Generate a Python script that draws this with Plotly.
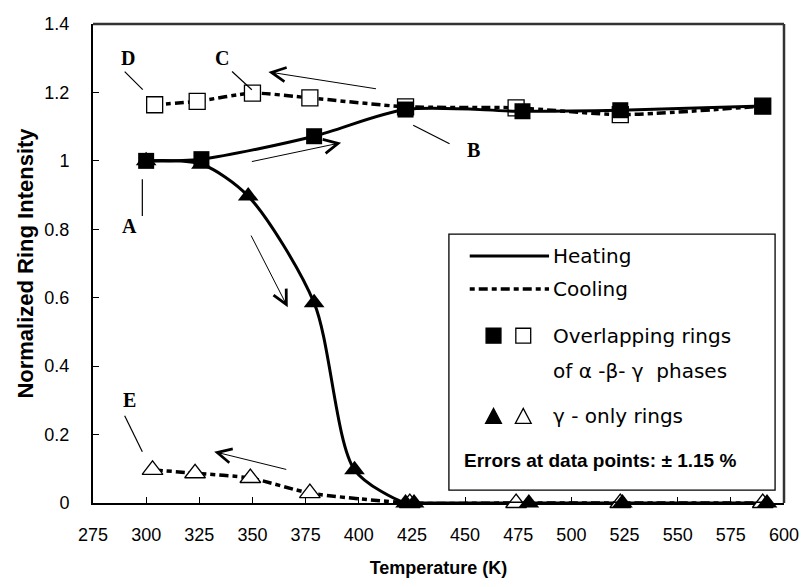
import plotly.graph_objects as go

# ---- data ----
heat_sq_x = [300, 326, 379, 422, 477, 523, 590]
heat_sq_y = [1.0, 1.005, 1.072, 1.15, 1.145, 1.148, 1.16]
heat_tri_x = [300, 326, 348, 379, 398, 422, 426, 480, 524, 592]
heat_tri_y = [1.0, 0.99, 0.897, 0.585, 0.097, 0.0, 0.0, 0.0, 0.0, 0.0]
cool_sq_x = [590, 523, 474, 422, 377, 350, 324, 304]
cool_sq_y = [1.16, 1.135, 1.155, 1.158, 1.184, 1.198, 1.174, 1.164]
cool_tri_x = [590, 523, 474, 424, 377, 349, 323, 303]
cool_tri_y = [0.0, 0.0, 0.0, 0.0, 0.029, 0.073, 0.087, 0.097]
x_ticks = [275, 300, 325, 350, 375, 400, 425, 450, 475, 500, 525, 550, 575, 600]
y_ticks = [0, 0.2, 0.4, 0.6, 0.8, 1.0, 1.2, 1.4]
y_tick_text = ["0", "0.2", "0.4", "0.6", "0.8", "1", "1.2", "1.4"]

W, H = 811, 587
ML, MR, MT, MB = 93, 21, 24, 82
PW, PH = W - ML - MR, H - MT - MB

def px(x):
    return (x - ML) / PW

def py(y):
    return (MT + PH - y) / PH

DASH = "5px,4px,9px,4px"
SQ, TRI = 16, 18
fig = go.Figure()

# cooling (drawn first, under)
fig.add_trace(go.Scatter(x=cool_tri_x, y=cool_tri_y, mode="lines+markers", cliponaxis=False,
    line=dict(color="black", width=3.5, dash=DASH, shape="spline", smoothing=0.6),
    marker=dict(symbol="triangle-up", size=TRI, color="white", line=dict(width=1.3, color="black")),
    showlegend=False))
fig.add_trace(go.Scatter(x=cool_sq_x, y=cool_sq_y, mode="lines+markers", cliponaxis=False,
    line=dict(color="black", width=3.5, dash=DASH, shape="spline", smoothing=0.6),
    marker=dict(symbol="square", size=SQ, color="white", line=dict(width=1.3, color="black")),
    showlegend=False))
# heating
fig.add_trace(go.Scatter(x=heat_tri_x, y=heat_tri_y, mode="lines+markers", cliponaxis=False,
    line=dict(color="black", width=3, shape="spline", smoothing=0.8),
    marker=dict(symbol="triangle-up", size=TRI, color="black"),
    showlegend=False))
fig.add_trace(go.Scatter(x=heat_sq_x, y=heat_sq_y, mode="lines+markers", cliponaxis=False,
    line=dict(color="black", width=3, shape="spline", smoothing=0.8),
    marker=dict(symbol="square", size=SQ, color="black"),
    showlegend=False))

annotations = []
shapes = []

# top / right frame (dark grey)
shapes.append(dict(type="line", xref="paper", yref="paper", x0=0, x1=1, y0=1, y1=1,
                   line=dict(color="#333333", width=2.5), layer="below"))
shapes.append(dict(type="line", xref="paper", yref="paper", x0=1, x1=1, y0=0, y1=1,
                   line=dict(color="#333333", width=2.5), layer="below"))

# pointer lines
pointer_lines = [
    (289.9, 1.261, 298.4, 1.208),  # D
    (340.4, 1.261, 349.7, 1.208),  # C
    (425.6, 1.104, 442.7, 1.050),  # B
    (298.2, 0.946, 298.2, 0.839),  # A
    (289.9, 0.255, 298.2, 0.150),  # E
]
for x0, y0, x1, y1 in pointer_lines:
    shapes.append(dict(type="line", xref="x", yref="y", x0=x0, y0=y0, x1=x1, y1=y1,
                       line=dict(color="black", width=1.2)))

# direction arrows (head at x,y; tail at ax,ay)
arrows = [
    (357.5, 1.26, 408.8, 1.21),
    (391.7, 1.053, 349.0, 0.997),
    (366.6, 0.572, 349.0, 0.786),
    (332.0, 0.150, 366.6, 0.097),
]
for x, y, ax, ay in arrows:
    annotations.append(dict(x=x, y=y, ax=ax, ay=ay, xref="x", yref="y", axref="x", ayref="y",
                            text="", showarrow=True, arrowhead=5, arrowsize=2.8, arrowwidth=1.0,
                            arrowcolor="black"))

# letters
letters = [("D", 291.3, 1.30), ("C", 335.5, 1.30), ("B", 453.8, 1.031),
           ("A", 292.2, 0.81), ("E", 292.2, 0.30)]
for t, x, y in letters:
    annotations.append(dict(x=x, y=y, xref="x", yref="y", text="<b>%s</b>" % t, showarrow=False,
                            font=dict(family="Liberation Serif", size=20, color="black")))

# legend box
bx0, by0, bx1, by1 = 452, 235, 781, 492
shapes.append(dict(type="rect", xref="paper", yref="paper", x0=px(bx0), x1=px(bx1),
                   y0=py(by1), y1=py(by0), line=dict(color="black", width=1.3),
                   fillcolor="white", layer="above"))
shapes.append(dict(type="line", xref="paper", yref="paper", x0=px(473), x1=px(553),
                   y0=py(257), y1=py(257), line=dict(color="black", width=3), layer="above"))
shapes.append(dict(type="line", xref="paper", yref="paper", x0=px(473), x1=px(553),
                   y0=py(290), y1=py(290), line=dict(color="black", width=3.5, dash=DASH), layer="above"))
# legend squares
s = 7.5
for cx, fill in [(497, "black"), (527, "white")]:
    cy = 337
    shapes.append(dict(type="rect", xref="paper", yref="paper", x0=px(cx - s), x1=px(cx + s),
                       y0=py(cy + s), y1=py(cy - s), fillcolor=fill,
                       line=dict(color="black", width=1.3), layer="above"))
# legend triangles
for cx, fill in [(497, "black"), (527, "white")]:
    cy = 418
    path = "M %f %f L %f %f L %f %f Z" % (px(cx - 8), py(cy + 7), px(cx + 8), py(cy + 7), px(cx), py(cy - 8))
    shapes.append(dict(type="path", xref="paper", yref="paper", path=path, fillcolor=fill,
                       line=dict(color="black", width=1.3), layer="above"))

leg_font = dict(family="DejaVu Sans", size=20, color="black")
for t, y in [("Heating", 257), ("Cooling", 290), ("Overlapping rings", 337),
             ("of α -β- γ  phases", 372), ("γ - only rings", 418)]:
    annotations.append(dict(x=px(555), y=py(y), xref="paper", yref="paper", text=t,
                            xanchor="left", yanchor="middle", showarrow=False, font=leg_font))
annotations.append(dict(x=px(465), y=py(462), xref="paper", yref="paper",
                        text="<b>Errors at data points: ± 1.15 %</b>", xanchor="left",
                        yanchor="middle", showarrow=False,
                        font=dict(family="Liberation Sans", size=19, color="black")))

axis_common = dict(showgrid=False, zeroline=False, showline=True, linecolor="black", linewidth=2,
                   mirror=False, ticks="inside", ticklen=6, tickwidth=1, tickcolor="black",
                   layer="below traces",
                   tickfont=dict(family="Liberation Sans", size=18, color="black"))
fig.update_layout(
    width=W, height=H, margin=dict(l=ML, r=MR, t=MT, b=MB),
    plot_bgcolor="white", paper_bgcolor="white",
    xaxis=dict(range=[275, 600], tickvals=x_ticks, ticklabelstandoff=14,
               title=dict(text="<b>Temperature (K)</b>", font=dict(family="Liberation Sans", size=18, color="black"), standoff=18),
               **axis_common),
    yaxis=dict(range=[0, 1.4], tickvals=y_ticks, ticktext=y_tick_text, ticklabelstandoff=18,
               title=dict(text="<b>Normalized Ring Intensity</b>", font=dict(family="Liberation Sans", size=22, color="black"), standoff=5),
               **axis_common),
    shapes=shapes, annotations=annotations,
)
fig.write_html("out.html")
